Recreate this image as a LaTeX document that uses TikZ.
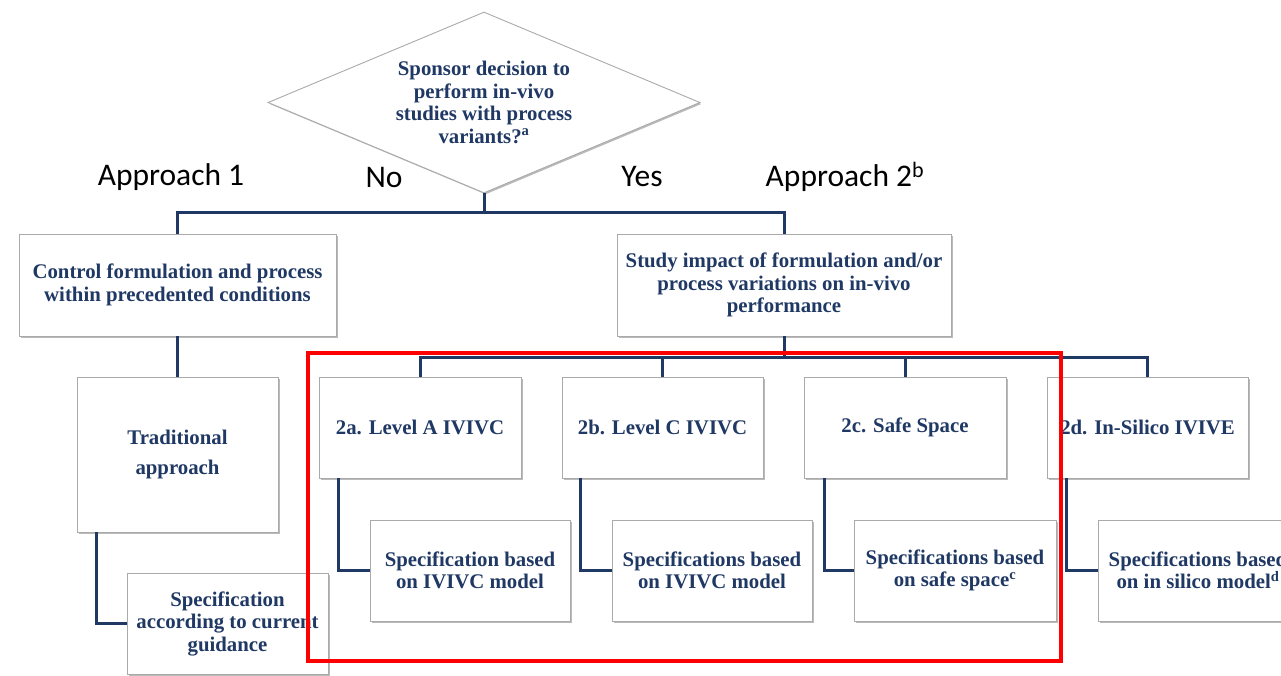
\documentclass[tikz,border=0pt]{standalone}
\usepackage{fontspec}
\setmainfont{Liberation Serif}
\newfontfamily\lblfont{Carlito}
\usetikzlibrary{shapes.geometric,shadows}
\definecolor{navy}{RGB}{31,56,100}
\definecolor{boxgray}{RGB}{170,170,170}
\tikzset{
  box/.style={draw=boxgray, line width=0.9pt, fill=white, text=navy, align=center,
    inner sep=0pt, font=\bfseries\fontsize{20.8}{22.5}\selectfont,
    drop shadow={shadow xshift=1.5pt, shadow yshift=-1.5pt, fill=black!45, opacity=0.6}},
  decision/.style={box, shape=diamond, aspect=2.39},
  link/.style={draw=navy, line width=3pt},
  lbl/.style={font=\lblfont\fontsize{31.5}{34}\selectfont, text=black, inner sep=0pt},
  redframe/.style={draw=red, line width=4pt}
}
\begin{document}
\begin{tikzpicture}[x=1pt,y=-1pt]
\useasboundingbox (0,0) rectangle (1281,675);
\clip (0,0) rectangle (1281,675);
% nodes
\node[decision, minimum width=432pt, minimum height=181pt] (dec) at (484,102.5)
  {Sponsor decision to\\perform in-vivo\\studies with process\\variants?\textsuperscript{a}};
\node[box, minimum width=317pt, minimum height=102pt] (ctrl) at (177.5,285)
  {Control formulation and process\\within precedented conditions};
\node[box, minimum width=334pt, minimum height=102pt] (study) at (784,285)
  {Study impact of formulation and/or\\process variations on in-vivo\\performance};
\node[box, minimum width=201pt, minimum height=155pt] (trad) at (177.5,454.5)
  {Traditional\\[8pt]approach};
\node[box, minimum width=201pt, minimum height=101pt] (guide) at (227.5,623.5)
  {Specification\\according to current\\guidance};
\node[box, minimum width=202pt, minimum height=101pt] (l2a) at (420,427.5) {2a. Level A IVIVC};
\node[box, minimum width=201pt, minimum height=101pt] (l2b) at (662.5,427.5) {2b. Level C IVIVC};
\node[box, minimum width=202pt, minimum height=101pt] (l2c) at (905,427.5) {2c. Safe Space};
\node[box, minimum width=201pt, minimum height=101pt] (l2d) at (1147.5,427.5) {2d. In-Silico IVIVE};
\node[box, minimum width=200pt, minimum height=101pt] (s2a) at (470,570.5)
  {Specification based\\on IVIVC model};
\node[box, minimum width=200pt, minimum height=101pt] (s2b) at (712,570.5)
  {Specifications based\\on IVIVC model};
\node[box, minimum width=202pt, minimum height=101pt] (s2c) at (955,570.5)
  {Specifications based\\on safe space\textsuperscript{c}};
\node[box, minimum width=200pt, minimum height=101pt] (s2d) at (1198,570.5)
  {Specifications based\\on in silico model\textsuperscript{d}};
% labels
\node[lbl] (ap1) at (171,177) {Approach 1};
\node[lbl] (no) at (384,177) {No};
\node[lbl] (yes) at (642,177) {Yes};
\node[lbl] (ap2) at (845,177) {Approach 2\textsuperscript{b}};
% connectors
\coordinate (hub1) at (484,212);
\coordinate (hub2) at (784,357);
\draw[link] (dec.south) -- (hub1);
\draw[link] (ctrl.north) |- (hub1) -| (study.north);
\draw[link] (ctrl.south) -- (trad.north);
\draw[link] ([xshift=20pt]trad.south west) |- (guide.west);
\draw[link] (study.south) -- (hub2);
\draw[link] (l2a.north) |- (hub2) -| (l2d.north);
\draw[link] (l2b.north) -- (l2b.north |- hub2);
\draw[link] (l2c.north) -- (l2c.north |- hub2);
\draw[link] ([xshift=20pt]l2a.south west) |- (s2a.west);
\draw[link] ([xshift=19pt]l2b.south west) |- (s2b.west);
\draw[link] ([xshift=21pt]l2c.south west) |- (s2c.west);
\draw[link] ([xshift=20pt]l2d.south west) |- (s2d.west);
% red frame
\coordinate (rf1) at (308,353);
\coordinate (rf2) at (1061,661);
\draw[redframe] (rf1) rectangle (rf2);
\end{tikzpicture}
\end{document}
